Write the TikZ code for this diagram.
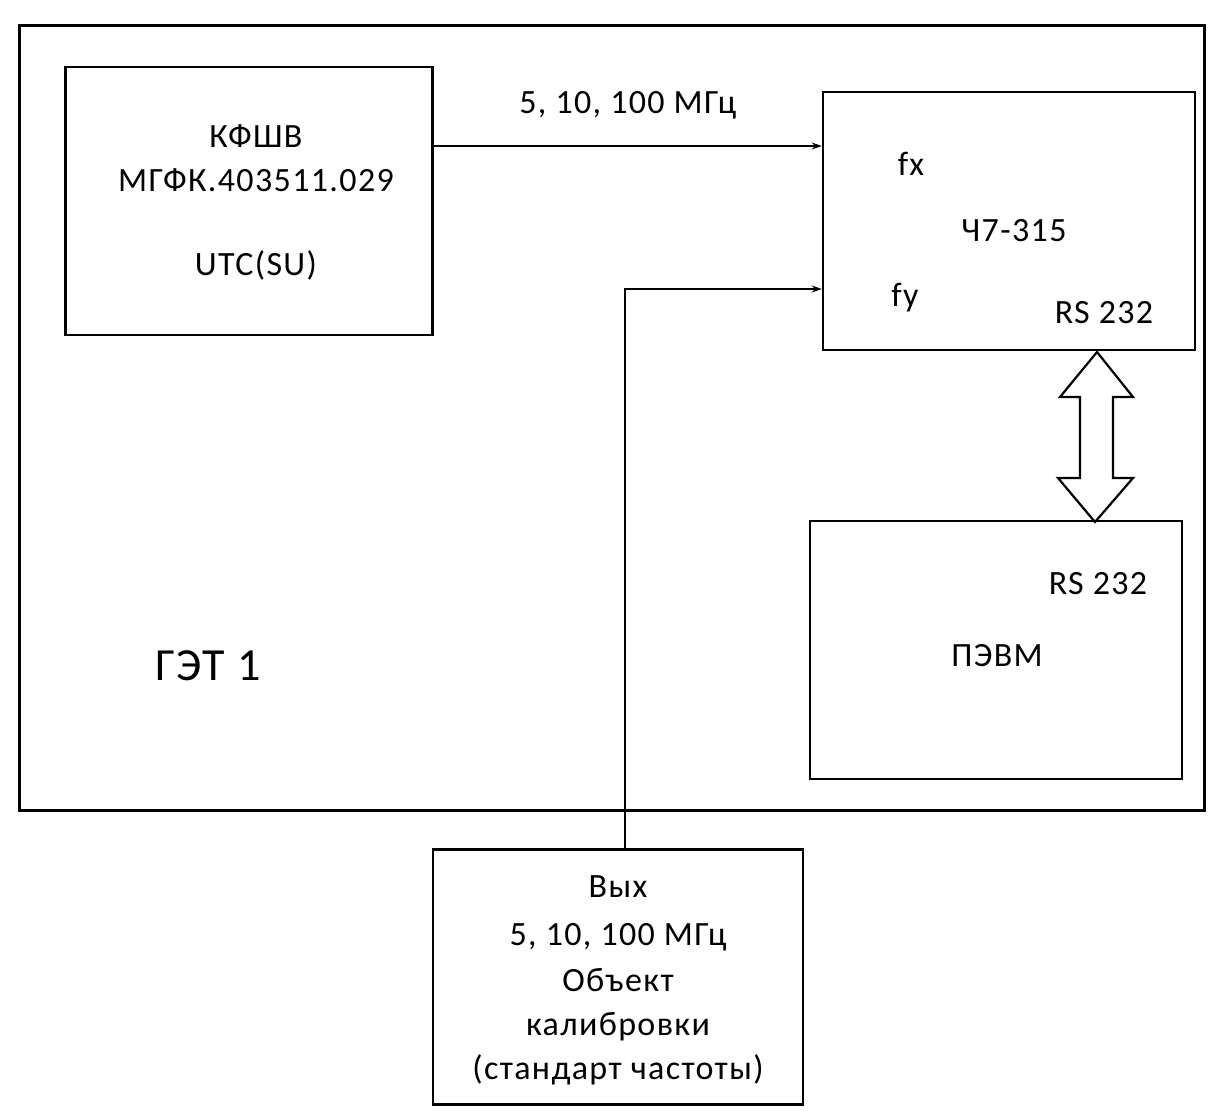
\documentclass[tikz,border=0pt]{standalone}
\usepackage{fontspec}
\setmainfont{Carlito}[LetterSpace=4]
\usetikzlibrary{arrows.meta}
\begin{document}
\begin{tikzpicture}[x=1pt,y=-1pt,
  blk/.style={draw,line width=2.5pt,inner sep=0pt},
  lbl/.style={font=\fontsize{34}{44}\selectfont,inner sep=0pt,align=center},
  conn/.style={line width=1.3pt,-{Stealth[length=10pt,width=7pt]}},
  bus/.style={draw,line width=2.2pt,fill=white,line join=miter}]
\useasboundingbox (0,0) rectangle (1221,1114);
% outer box
\node[blk,minimum width=1185pt,minimum height=785pt] (get) at (612,418) {};
\node[lbl,font=\fontsize{46}{50}\selectfont] (getl) at (208,666) {ГЭТ 1};
% КФШВ box
\node[blk,minimum width=367pt,minimum height=268pt] (kf) at (249,201) {};
\node[lbl] (kft) at (256,202) {КФШВ\\МГФК.403511.029\\[40pt]UTC(SU)};
% Ч7-315
\node[blk,minimum width=372pt,minimum height=258pt] (ch) at (1009,221) {};
\node[lbl] (fx) at (911,164) {fx};
\node[lbl] (chn) at (1014,231) {Ч7-315};
\node[lbl] (fy) at (905,298) {fy};
\node[lbl] (rs1) at (1104,313) {RS 232};
% ПЭВМ
\node[blk,minimum width=372pt,minimum height=258pt] (pc) at (996,650) {};
\node[lbl] (rs2) at (1098,584) {RS 232};
\node[lbl] (pcn) at (997,656) {ПЭВМ};
% bottom box
\node[blk,minimum width=370pt,minimum height=255pt] (obj) at (618,977) {};
\node[lbl] (objt) at (618,980) {Вых\\[4pt]5, 10, 100 МГц\\[2pt]Объект\\калибровки\\(стандарт частоты)};
% connectors
\coordinate (fxin) at (ch.west |- 0,146);
\coordinate (fyin) at (ch.west |- 0,289);
\draw[conn] (kf.east |- fxin) -- (fxin)
  node[lbl,pos=0.5,above=26pt] (freq) {5, 10, 100 МГц};
\draw[conn] (obj.north -| 625,0) -- (625,289) -- (fyin);
% double arrow bus
\draw[bus] (1097,352) -- (1133,397) -- (1113,397) -- (1113,478) -- (1133,478)
  -- (1095,522) -- (1058,478) -- (1080,478) -- (1080,397) -- (1060,397) -- cycle;
\end{tikzpicture}
\end{document}
